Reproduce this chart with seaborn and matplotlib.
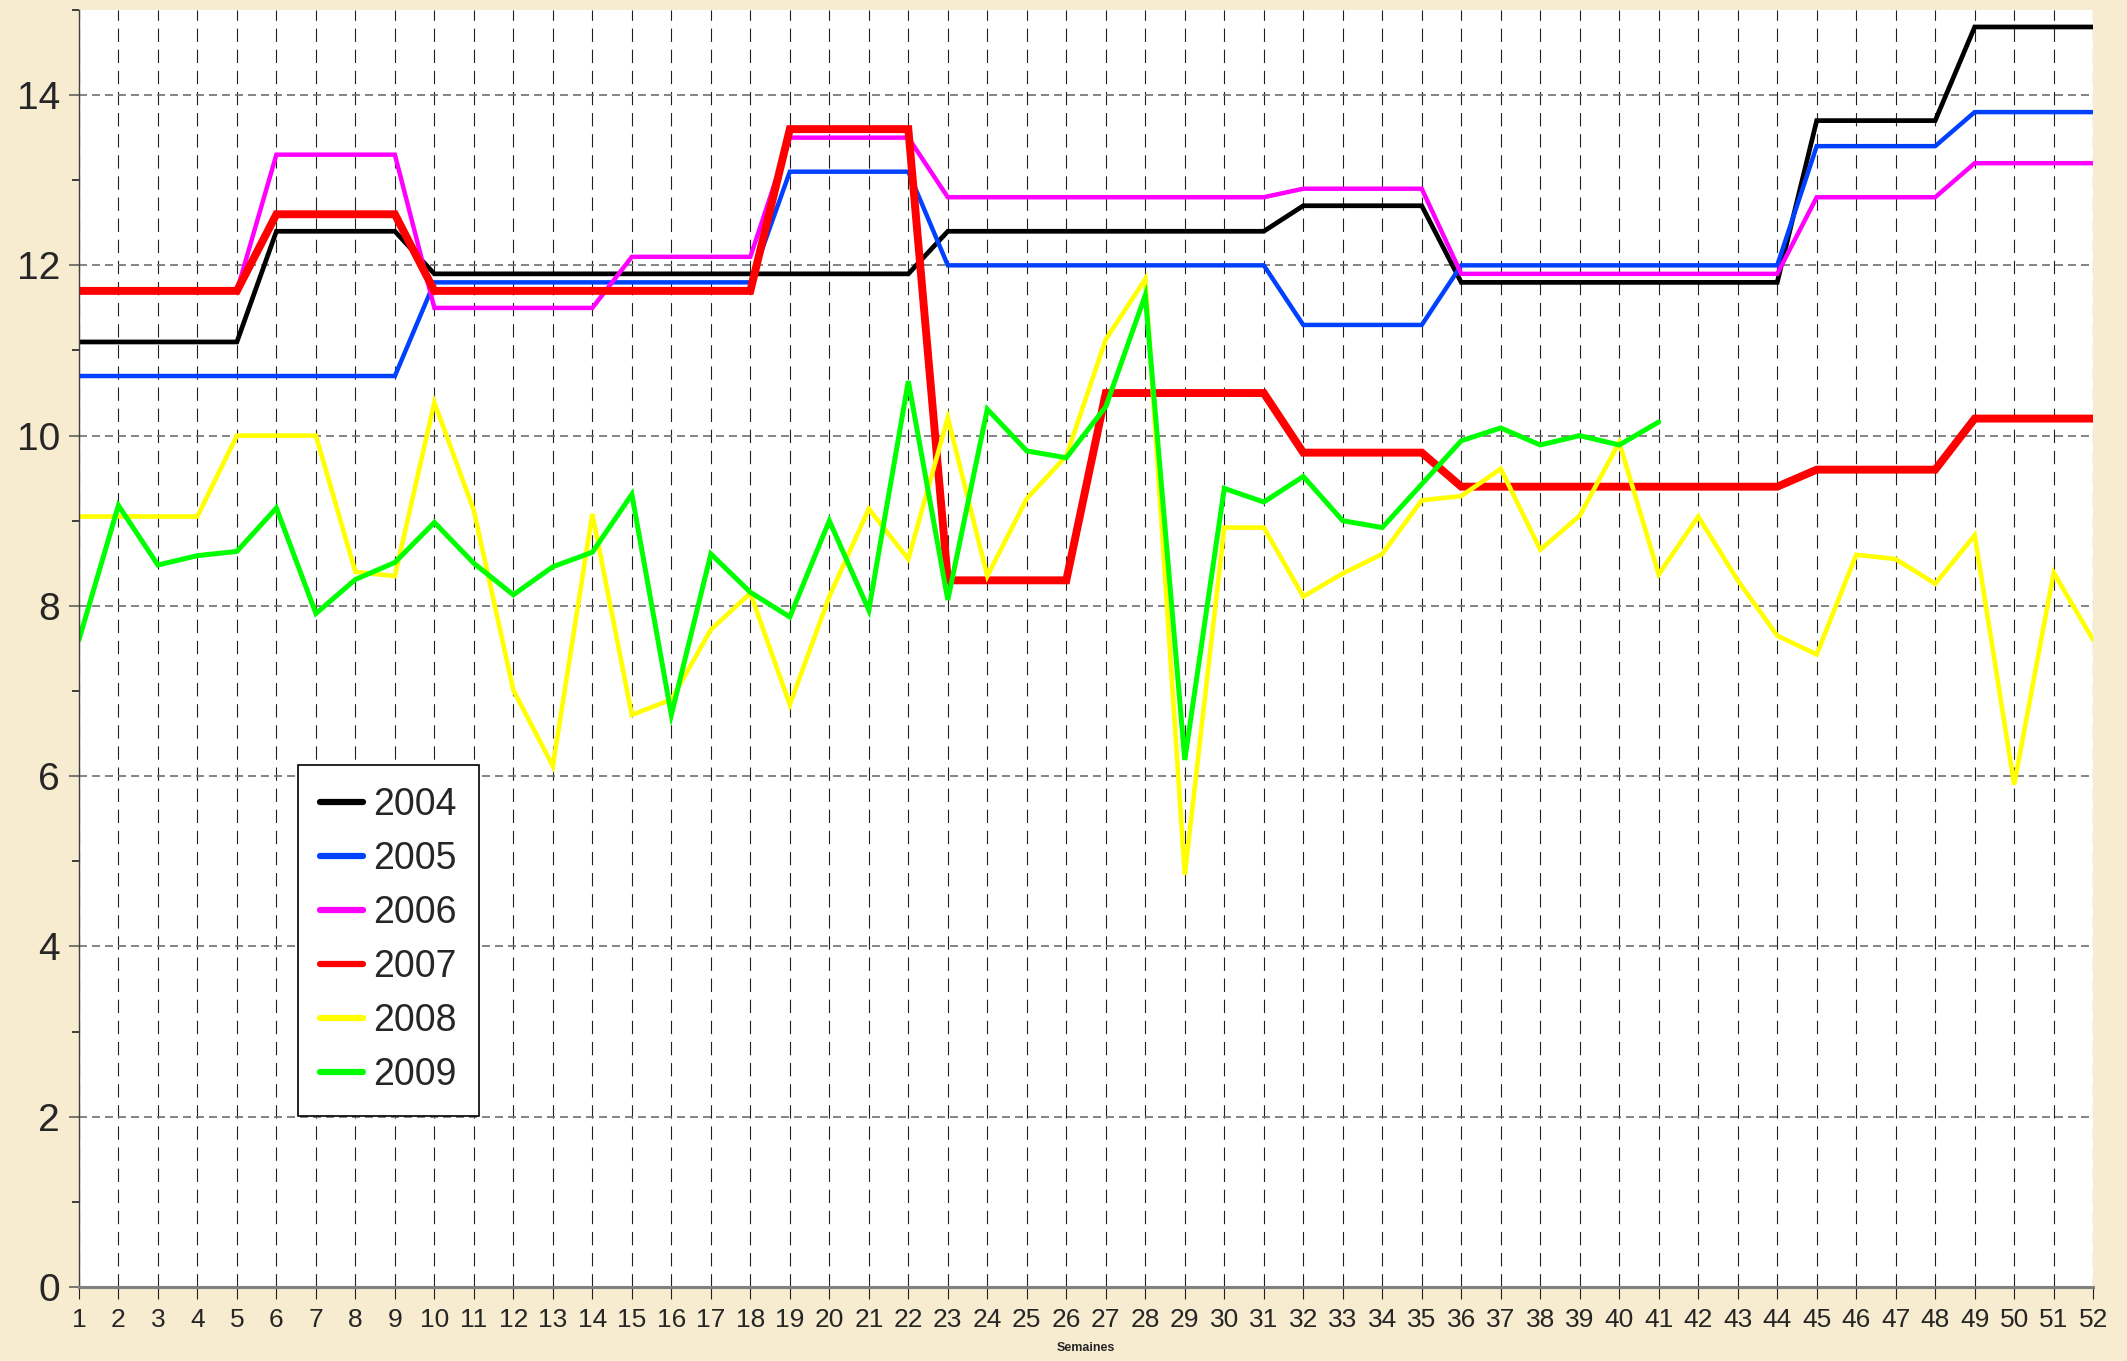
import numpy as np
import pandas as pd
import matplotlib
matplotlib.use("Agg")
import matplotlib.pyplot as plt
import seaborn as sns
from matplotlib.ticker import MultipleLocator

# ----------- DATA -----------
weeks = list(range(1, 53))

s2004 = [11.1] * 5 + [12.4] * 4 + [11.9] * 13 + [12.4] * 9 + [12.7] * 4 + [11.8] * 9 + [13.7] * 4 + [14.8] * 4
s2005 = [10.7] * 9 + [11.8] * 9 + [13.1] * 4 + [12.0] * 9 + [11.3] * 4 + [12.0] * 9 + [13.4] * 4 + [13.8] * 4
s2006 = [11.7] * 5 + [13.3] * 4 + [11.5] * 5 + [12.1] * 4 + [13.5] * 4 + [12.8] * 9 + [12.9] * 4 + [11.9] * 9 + [12.8] * 4 + [13.2] * 4
s2007 = [11.7] * 5 + [12.6] * 4 + [11.7] * 9 + [13.6] * 4 + [8.3] * 4 + [10.5] * 5 + [9.8] * 4 + [9.4] * 9 + [9.6] * 4 + [10.2] * 4
s2008 = [9.05, 9.05, 9.05, 9.05, 10.0, 10.0, 10.0, 8.4, 8.35, 10.39,
         9.12, 7.01, 6.12, 9.08, 6.72, 6.9, 7.72, 8.15, 6.84, 8.11,
         9.14, 8.55, 10.21, 8.35, 9.26, 9.76, 11.13, 11.84, 4.84, 8.92,
         8.92, 8.11, 8.38, 8.61, 9.24, 9.29, 9.61, 8.66, 9.06, 9.92,
         8.37, 9.05, 8.3, 7.65, 7.43, 8.6, 8.55, 8.26, 8.83, 5.9,
         8.39, 7.6]
s2009 = [7.6, 9.18, 8.48, 8.59, 8.64, 9.15, 7.91, 8.31, 8.51, 8.98,
         8.5, 8.13, 8.46, 8.63, 9.31, 6.72, 8.61, 8.16, 7.87, 9.0,
         7.95, 10.64, 8.07, 10.31, 9.82, 9.74, 10.34, 11.65, 6.19, 9.38,
         9.22, 9.52, 9.0, 8.92, 9.43, 9.94, 10.09, 9.89, 10.0, 9.89,
         10.16]

years = ["2004", "2005", "2006", "2007", "2008", "2009"]
series = [s2004, s2005, s2006, s2007, s2008, s2009]
colors = ["#000000", "#0040FF", "#FF00FF", "#FF0000", "#FFFF00", "#00FF00"]
widths = [3.4, 3.2, 3.2, 5.7, 3.3, 3.6]

# long-form table for seaborn
df = pd.concat([pd.DataFrame({"Semaine": weeks[:len(v)], "Valeur": v, "Annee": y})
                for y, v in zip(years, series)], ignore_index=True)

# ----------- FIGURE -----------
sns.set_style("white")
plt.rcParams["font.family"] = ["Liberation Sans", "DejaVu Sans"]

bg = "#F7EBD0"
fig = plt.figure(figsize=(21.27, 13.61), dpi=100, facecolor=bg)
ax = fig.add_axes([0.0371, 0.0544, 0.947, 0.9383])
ax.set_facecolor("white")

for y, c, lw in zip(years, colors, widths):
    sns.lineplot(data=df[df["Annee"] == y], x="Semaine", y="Valeur", color=c,
                 linewidth=lw, label=y, ax=ax, solid_joinstyle="miter")

ax.set_xlim(1, 52)
ax.set_ylim(0, 15)
ax.set_xticks(weeks)
ax.yaxis.set_major_locator(MultipleLocator(2))
ax.yaxis.set_minor_locator(MultipleLocator(1))

# grid
ax.set_axisbelow(True)
ax.yaxis.grid(True, which="major", color="#707070", linestyle=(0, (4.8, 3)), linewidth=1.2)
ax.xaxis.grid(True, which="major", color="#202020", linestyle=(0, (12, 7)), linewidth=0.8)

# spines
for s in ["top", "right"]:
    ax.spines[s].set_visible(False)
ax.spines["left"].set_color("#404040")
ax.spines["left"].set_linewidth(1.0)
ax.spines["bottom"].set_color("#808080")
ax.spines["bottom"].set_linewidth(2.2)

ax.tick_params(axis="y", which="major", direction="out", length=7.5, width=1.2,
               color="#606060", labelsize=28, pad=6, left=True)
ax.tick_params(axis="y", which="minor", direction="out", length=5, width=1.2,
               color="#202020", left=True)
ax.tick_params(axis="x", which="major", direction="out", length=8.5, width=0.8,
               color="#202020", labelsize=19, pad=7, bottom=True)

ax.set_xlabel("Semaines", fontsize=9, fontweight="bold", labelpad=7)
ax.set_ylabel("")

leg = ax.legend(loc="upper left", bbox_to_anchor=(0.1087, 0.409), borderaxespad=0,
                frameon=True, fancybox=False, framealpha=1, edgecolor="black",
                prop={"family": ["Liberation Sans", "DejaVu Sans"], "size": 27},
                handlelength=1.15, handletextpad=0.25, labelspacing=0.48, borderpad=0.6)
leg.get_frame().set_linewidth(1.2)
for h in leg.legend_handles:
    h.set_linewidth(4.5)

fig.savefig("out.png", dpi=100, facecolor=bg)
